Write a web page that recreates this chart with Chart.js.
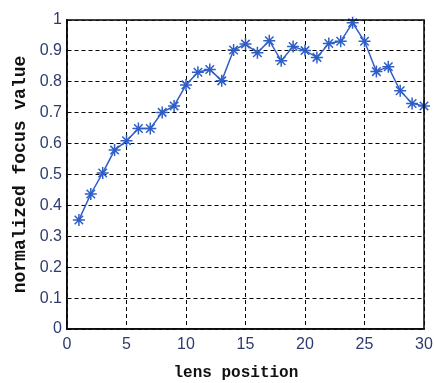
<!DOCTYPE html>
<html>
<head>
<meta charset="utf-8">
<script src="https://cdn.jsdelivr.net/npm/chart.js@4/dist/chart.umd.min.js"></script>
<style>
  html, body { margin: 0; padding: 0; background: #ffffff; }
  #wrap { width: 434px; height: 383px; }
</style>
</head>
<body>
<div id="wrap"><canvas id="c" width="434" height="383"></canvas></div>
<script>
// Lens sweep: focus measure at each lens position, normalised to the peak.
const lensPositions = [1, 2, 3, 4, 5, 6, 7, 8, 9, 10,
                       11, 12, 13, 14, 15, 16, 17, 18, 19, 20,
                       21, 22, 23, 24, 25, 26, 27, 28, 29, 30];
const focusValues = [0.353, 0.437, 0.505, 0.579, 0.609, 0.649, 0.649, 0.701, 0.722, 0.790,
                     0.831, 0.840, 0.803, 0.903, 0.922, 0.894, 0.933, 0.868, 0.914, 0.901,
                     0.879, 0.924, 0.931, 0.991, 0.931, 0.833, 0.849, 0.771, 0.730, 0.722];
const xTickValues = [0, 5, 10, 15, 20, 25, 30];
const yTickValues = [0, 0.1, 0.2, 0.3, 0.4, 0.5, 0.6, 0.7, 0.8, 0.9, 1];

const points = lensPositions.map((x, i) => ({ x: x, y: focusValues[i] }));

const tickColor = '#2e3b6e';
const tickFont = { family: 'Liberation Sans', size: 16 };

// Solid box around the plotting area
const frame = {
  id: 'frame',
  afterDraw(chart) {
    const { ctx, chartArea: a } = chart;
    ctx.save();
    ctx.strokeStyle = '#111111';
    ctx.lineWidth = 1.6;
    ctx.setLineDash([]);
    ctx.strokeRect(a.left, a.top, a.right - a.left, a.bottom - a.top);
    ctx.restore();
  }
};

new Chart(document.getElementById('c'), {
  type: 'scatter',
  data: {
    datasets: [{
      data: points,
      showLine: true,
      borderColor: '#2f5fc6',
      backgroundColor: '#2f5fc6',
      borderWidth: 1.5,
      pointStyle: 'star',
      pointRadius: 6,
      pointBorderWidth: 1.5,
      pointBorderColor: '#2f5fc6',
      clip: false
    }]
  },
  options: {
    responsive: false,
    animation: false,
    layout: { padding: { left: 0, right: 10, top: 20, bottom: 0 } },
    plugins: { legend: { display: false }, tooltip: { enabled: false } },
    scales: {
      x: {
        type: 'linear',
        min: 0, max: 30,
        afterBuildTicks(scale) { scale.ticks = xTickValues.map(v => ({ value: v })); },
        afterFit(scale) {
          scale.height = 54;
          scale.paddingLeft = 0;
          scale.paddingRight = 0;
        },
        ticks: { color: tickColor, font: tickFont, padding: 6, maxRotation: 0 },
        grid: { color: '#000000', lineWidth: 1, drawTicks: false },
        border: { display: true, color: '#000000', width: 1.5, dash: [4, 3] },
        title: {
          display: true, text: 'lens position  ', color: '#111111',
          font: { family: 'Liberation Mono', size: 16, weight: 'bold' },
          padding: { top: 3, bottom: 0 }
        }
      },
      y: {
        type: 'linear',
        min: 0, max: 1,
        afterBuildTicks(scale) { scale.ticks = yTickValues.map(v => ({ value: v })); },
        afterFit(scale) {
          scale.width = 67;
          scale.paddingTop = 0;
          scale.paddingBottom = 0;
        },
        ticks: {
          color: tickColor, font: tickFont, padding: 5,
          callback: v => String(Math.round(v * 10) / 10)
        },
        grid: { color: '#000000', lineWidth: 1, drawTicks: false },
        border: { display: true, color: '#000000', width: 1.5, dash: [4, 3] },
        title: {
          display: true, text: 'normalized focus value', color: '#111111',
          font: { family: 'Liberation Mono', size: 18, weight: 'bold' },
          padding: { top: 10, bottom: 0 }
        }
      }
    }
  },
  plugins: [frame]
});
</script>
</body>
</html>
